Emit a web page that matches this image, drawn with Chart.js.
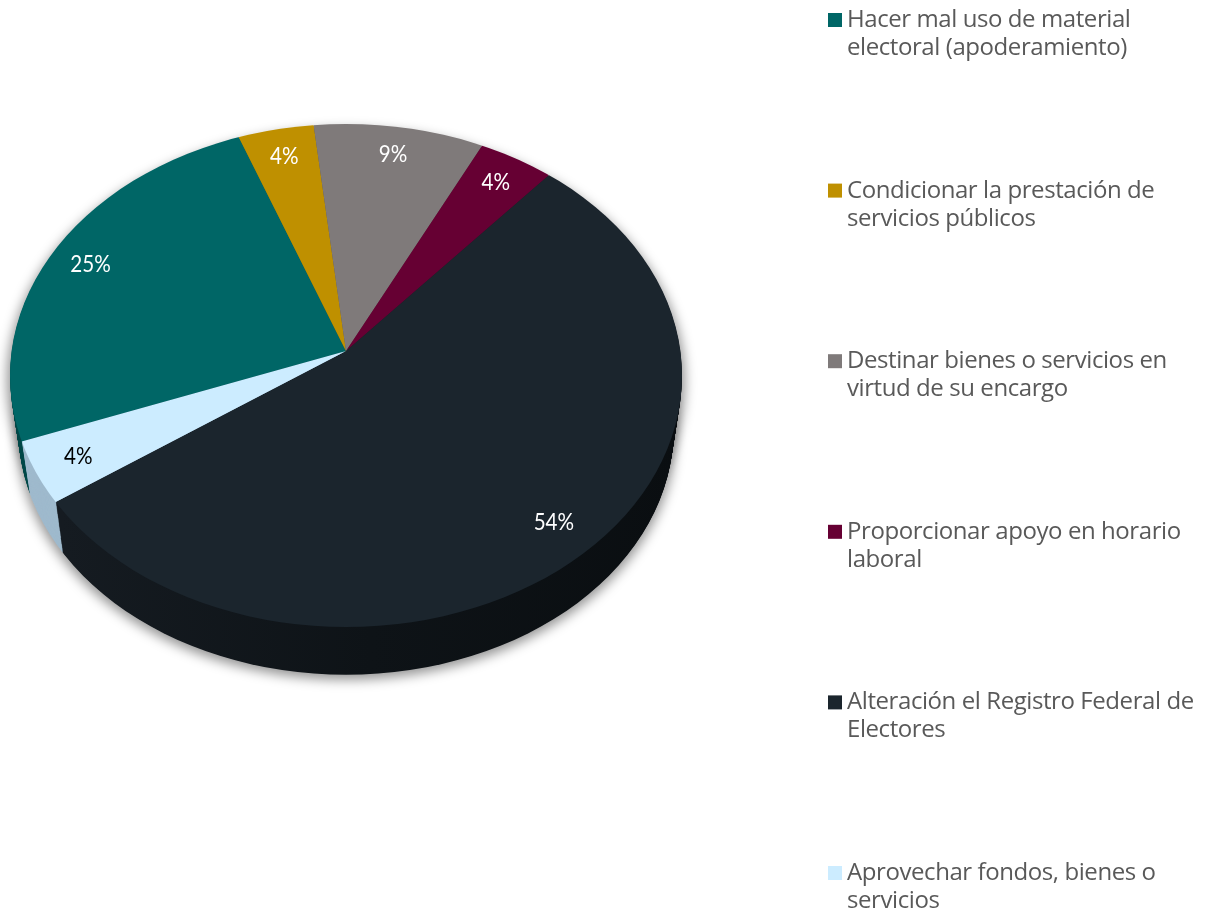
<!DOCTYPE html>
<html><head><meta charset="utf-8">
<style>html,body{margin:0;padding:0;background:#fff}canvas{display:block}</style>
<script src="https://cdn.jsdelivr.net/npm/chart.js@4"></script>
</head><body><canvas id="c" width="1208" height="911"></canvas>
<script>
const categories = [
  ["Hacer mal uso de material","electoral (apoderamiento)"],
  ["Condicionar la prestación de","servicios públicos"],
  ["Destinar bienes o servicios en","virtud de su encargo"],
  ["Proporcionar apoyo en horario","laboral"],
  ["Alteración el Registro Federal de","Electores"],
  ["Aprovechar fondos, bienes o","servicios"]
];
const values = [25,4,9,4,54,4];
const colors = ["#006666","#BF9000","#7F7A7A","#660033","#1B252D","#CCECFF"];
const sideColors = ["#004A4A","#8A6800","#5C5858","#4A0025","#0D1216","#9FBACD"];
const labelColors = ["#FFFFFF","#FFFFFF","#FFFFFF","#FFFFFF","#FFFFFF","#000000"];
const startAngle = -110.5;

// projective view of the disc: apex on screen, rim ellipse, perspective factors
const cx=346, cy=351;
const ell={x:346,y:375.5,rx:336,ry:251.5};
const tilt=0.7455, persp=0.0974, kx=334, ky=249;
const drop=54, shrink=0.025;

function withColor(arc,color,fn){
  const o=arc.options, r=arc.outerRadius;
  const t=Object.create(o); t.backgroundColor=color; t.borderColor=color; t.borderWidth=0;
  arc.options=t; arc.outerRadius=r*1.35; fn(); arc.options=o; arc.outerRadius=r;
}
function drawSurface(ctx,arcs,palette,t){
  const off=drop*t, f=1-shrink*t;
  ctx.save();
  ctx.beginPath(); ctx.ellipse(ell.x,ell.y+off,ell.rx*f,ell.ry*f,0,0,Math.PI*2); ctx.clip();
  ctx.translate(cx,cy+off); ctx.scale(f,f*tilt); ctx.translate(-cx,-cy);
  arcs.forEach((a,i)=>withColor(a,palette[i],()=>a.draw(ctx)));
  ctx.restore();
}
const pie3d={id:'pie3d',
  beforeDatasetsDraw(chart){
    const ctx=chart.ctx, arcs=chart.getDatasetMeta(0).data;
    const f=1-shrink;
    ctx.save();
    ctx.filter='blur(6px)'; ctx.fillStyle='rgba(0,0,0,0.42)';
    ctx.beginPath(); ctx.ellipse(ell.x,ell.y+drop+4,ell.rx*f+2,ell.ry*f+1,0,0,Math.PI*2); ctx.fill();
    ctx.beginPath(); ctx.ellipse(ell.x,ell.y+5,ell.rx+3,ell.ry,0,0,Math.PI*2); ctx.fill();
    ctx.restore();
    const side=sideColors.slice();
    const g=ctx.createLinearGradient(60,0,682,0);
    g.addColorStop(0,'#151B21'); g.addColorStop(0.5,'#0E1317'); g.addColorStop(1,'#0A0E11');
    side[4]=g;
    for(let d=drop;d>=1;d--) drawSurface(ctx,arcs,side,d/drop);
    drawSurface(ctx,arcs,colors,0);
    return false;
  },
  afterDraw(chart){
    const ctx=chart.ctx, arcs=chart.getDatasetMeta(0).data;
    ctx.save();
    ctx.font='24px Lato'; ctx.textAlign='center'; ctx.textBaseline='middle';
    arcs.forEach((a,i)=>{
      const mid=(a.startAngle+a.endAngle)/2, r=0.87;
      const x=Math.cos(mid)*r, y=-Math.sin(mid)*r, w=1+persp*y;
      ctx.fillStyle=labelColors[i];
      ctx.save();
      ctx.translate(cx+kx*x/w,cy-ky*y/w);
      ctx.scale(0.86,1);
      ctx.fillText(values[i]+'%',0,0);
      ctx.restore();
    });
    ctx.font='24px "Open Sans"'; ctx.letterSpacing='-0.42px';
    ctx.textAlign='left'; ctx.textBaseline='alphabetic';
    categories.forEach((lines,i)=>{
      const top=i*170.6;
      ctx.fillStyle=colors[i];
      ctx.fillRect(828,13+top,14,14);
      ctx.fillStyle='#595959';
      lines.forEach((t,j)=>ctx.fillText(t,847,27+top+j*28));
    });
    ctx.restore();
  }
};
new Chart(document.getElementById('c'),{
  type:'pie',
  data:{labels:categories,datasets:[{data:values,backgroundColor:colors,borderWidth:0}]},
  options:{responsive:false,animation:false,rotation:startAngle,
    layout:{padding:{left:10,right:526,top:15,bottom:224}},
    plugins:{legend:{display:false},tooltip:{enabled:false}}},
  plugins:[pie3d]
});
</script></body></html>
